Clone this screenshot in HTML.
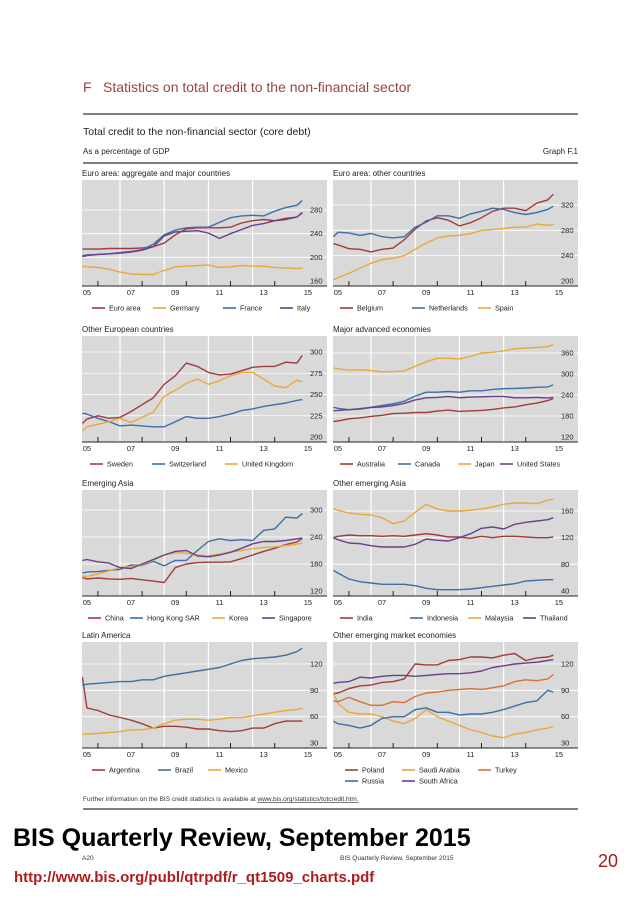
<!DOCTYPE html>
<html><head><meta charset="utf-8"><style>
html,body{margin:0;padding:0;background:#fff;}
svg{display:block;font-family:"Liberation Sans",sans-serif;}
</style></head><body>
<svg id="page" width="638" height="903" viewBox="0 0 638 903">
<text x="83" y="92" font-size="14" fill="#9b4343">F</text>
<text x="103" y="92" font-size="14" fill="#9b4343">Statistics on total credit to the non-financial sector</text>
<line x1="83" y1="114" x2="578" y2="114" stroke="#000" stroke-width="1"/>
<text x="83" y="135" font-size="10.5" fill="#222">Total credit to the non-financial sector (core debt)</text>
<text x="83" y="154" font-size="8" fill="#222">As a percentage of GDP</text>
<text x="578" y="154" font-size="8" fill="#222" text-anchor="end">Graph F.1</text>
<line x1="83" y1="163" x2="578" y2="163" stroke="#000" stroke-width="1"/>
<g id="charts"></g>
<text x="83" y="801" font-size="6.5" fill="#333">Further information on the BIS credit statistics is available at <tspan text-decoration="underline">www.bis.org/statistics/totcredit.htm.</tspan></text>
<line x1="83" y1="809" x2="578" y2="809" stroke="#000" stroke-width="1"/>
<text x="13" y="846" font-size="25" font-weight="bold" fill="#000">BIS Quarterly Review, September 2015</text>
<text x="82" y="860" font-size="6.5" fill="#333">A20</text>
<text x="340" y="860" font-size="6.5" fill="#333">BIS Quarterly Review, September 2015</text>
<text x="598" y="867" font-size="18" fill="#a01c1c">20</text>
<text x="14" y="882" font-size="15" font-weight="bold" fill="#b01c1c">http://www.bis.org/publ/qtrpdf/r_qt1509_charts.pdf</text>
</svg>
<script>
const years = [2005.3,2005.5,2006,2006.5,2007,2007.5,2008,2008.5,2009,2009.5,2010,2010.5,2011,2011.5,2012,2012.5,2013,2013.5,2014,2014.5,2015,2015.25];
const yearLabels = ["05","07","09","11","13","15"];
// Panel 1
const euroArea = [214,214,214,215,215,215,216,218,224,238,248,250,250,250,251,258,262,264,262,266,268,276];
const germany = [185,184,183,180,175,172,171,171,178,184,185,186,187,183,184,186,185,185,183,182,181,182];
const france = [203,204,205,206,208,210,213,222,238,246,250,251,251,259,267,270,271,270,278,284,288,296];
const italy = [201,203,205,206,207,209,212,218,236,243,244,245,241,232,240,247,254,257,262,264,268,275];
// Panel 2
const belgium = [259,257,251,250,246,250,252,265,282,295,300,296,287,292,300,310,315,315,311,323,328,337];
const netherlands = [270,277,276,272,275,270,268,270,285,293,303,303,299,306,310,315,313,308,305,308,313,318];
const spain = [202,205,212,220,228,234,236,240,250,260,268,271,272,275,280,281,283,285,285,290,288,289];
// Panel 3
const sweden = [216,221,225,222,223,230,238,246,262,272,287,283,276,273,274,278,282,283,283,288,287,296];
const switzerland = [228,227,222,218,213,214,213,212,212,218,224,222,222,224,227,231,233,236,238,240,243,244];
const unitedKingdom = [207,212,215,218,222,217,223,229,248,255,263,268,262,266,272,276,276,268,260,258,267,265];
// Panel 4
const australia = [164,166,172,175,179,182,187,188,190,190,194,197,193,195,196,199,203,206,212,217,224,230];
const canada = [205,202,198,201,205,210,215,222,237,248,248,250,248,252,252,256,258,259,260,262,263,269];
const japan = [317,315,311,312,310,306,307,309,322,335,345,345,343,350,360,362,366,372,374,376,378,384];
const unitedStates = [195,196,198,200,204,206,210,216,226,232,233,236,232,234,235,236,236,232,232,233,231,233];
// Panel 5
const china = [150,147,149,147,146,148,145,142,139,172,180,183,184,184,185,192,200,208,215,223,229,237];
const hongKong = [160,162,163,166,168,178,177,186,176,188,188,210,230,236,232,234,232,255,258,284,282,292];
const korea = [153,152,158,165,172,174,178,188,200,205,204,200,198,202,207,210,214,217,218,221,224,227];
const singapore = [188,190,185,182,172,170,180,190,200,208,210,198,196,200,206,215,225,230,230,232,236,238];
// Panel 6
const india = [120,122,124,123,123,122,123,122,124,126,124,121,121,119,122,120,122,122,121,120,120,121];
const indonesia = [71,67,58,54,52,50,50,50,48,44,42,42,42,43,45,47,49,51,55,56,57,57];
const malaysia = [164,161,157,155,154,150,141,145,158,170,163,160,160,161,163,166,170,172,172,171,176,178];
const thailand = [120,117,112,111,108,106,106,106,110,118,116,115,120,126,134,136,133,140,143,145,147,150];
// Panel 7
const argentina = [105,70,67,62,59,56,52,47,49,49,48,46,46,44,43,44,47,47,52,55,55,55];
const brazil = [96,97,98,99,100,100,102,102,106,108,110,112,114,116,120,124,126,127,128,130,134,138];
const mexico = [40,40,41,42,43,45,45,47,52,56,57,57,56,57,59,59,61,63,65,67,68,70];
// Panel 8
const poland = [86,87,92,95,96,99,100,103,120,119,119,124,125,128,128,127,130,132,124,127,128,130];
const saudiArabia = [87,75,65,63,63,60,55,52,58,68,60,55,50,45,42,38,36,40,42,45,47,49];
const turkey = [78,77,82,77,73,73,77,76,83,87,88,90,91,92,91,93,95,100,102,101,103,108];
const russia = [55,52,50,47,50,58,60,60,68,70,65,65,62,63,63,65,68,72,76,78,90,88];
const southAfrica = [98,99,100,105,104,106,107,107,106,107,108,109,109,110,112,116,118,120,121,122,124,125];
// Tick arrays
const ticks1 = [160,200,240,280];
const ticks2 = [200,240,280,320];
const ticks3 = [200,225,250,275,300];
const ticks4 = [120,180,240,300,360];
const ticks5 = [120,180,240,300];
const ticks6 = [40,80,120,160];
const ticks7 = [30,60,90,120];
const ticks8 = [30,60,90,120];

const RED="#a23b3b", YEL="#e9a83a", BLU="#3d6ea5", PUR="#6b3f8c", ORG="#d8703a";
const panels = [
 {name:"euro-area-aggregate",title:"Euro area: aggregate and major countries",x0:82,top:180,rTop:30,ticks:ticks1,
  series:[["Euro area",euroArea,RED,10],["Germany",germany,YEL,71],["France",france,BLU,141],["Italy",italy,PUR,198]]},
 {name:"euro-area-other",title:"Euro area: other countries",x0:333,top:180,rTop:25,ticks:ticks2,
  series:[["Belgium",belgium,RED,7],["Netherlands",netherlands,BLU,79],["Spain",spain,YEL,145]]},
 {name:"other-european",title:"Other European countries",x0:82,top:336,rTop:16,ticks:ticks3,
  series:[["Sweden",sweden,RED,8],["Switzerland",switzerland,BLU,70],["United Kingdom",unitedKingdom,YEL,143]]},
 {name:"major-advanced",title:"Major advanced economies",x0:333,top:336,rTop:17,ticks:ticks4,
  series:[["Australia",australia,RED,7],["Canada",canada,BLU,65],["Japan",japan,YEL,125],["United States",unitedStates,PUR,167]]},
 {name:"emerging-asia",title:"Emerging Asia",x0:82,top:490,rTop:20,ticks:ticks5,
  series:[["China",china,RED,6],["Hong Kong SAR",hongKong,BLU,48],["Korea",korea,YEL,130],["Singapore",singapore,PUR,180]]},
 {name:"other-emerging-asia",title:"Other emerging Asia",x0:333,top:490,rTop:21,ticks:ticks6,
  series:[["India",india,RED,7],["Indonesia",indonesia,BLU,77],["Malaysia",malaysia,YEL,135],["Thailand",thailand,PUR,190]]},
 {name:"latin-america",title:"Latin America",x0:82,top:642,rTop:22,ticks:ticks7,
  series:[["Argentina",argentina,RED,10],["Brazil",brazil,BLU,76],["Mexico",mexico,YEL,126]]},
 {name:"other-emerging-market",title:"Other emerging market economies",x0:333,top:642,rTop:22,ticks:ticks8,
  series:[["Poland",poland,RED,12,0],["Saudi Arabia",saudiArabia,YEL,69,0],["Turkey",turkey,ORG,145,0],["Russia",russia,BLU,12,11],["South Africa",southAfrica,PUR,69,11]]}
];
const NS="http://www.w3.org/2000/svg";
const root=document.getElementById("charts");
function mk(tag,attrs,parent){const e=document.createElementNS(NS,tag);for(const k in attrs)e.setAttribute(k,attrs[k]);(parent||root).appendChild(e);return e;}
const W=245,H=106;
panels.forEach((p,pi)=>{
  const g=mk("g",{});
  
  
  const xS=yr=>p.x0+(yr-2005.28)*22.1;
  const lo=p.ticks[0],hi=p.ticks[p.ticks.length-1];
  const yS=v=>p.top+101-(v-lo)/(hi-lo)*(101-p.rTop);
  const t=mk("text",{x:p.x0,y:p.top-4,"font-size":"8","fill":"#222"},g);t.textContent=p.title;
  
  
  const bg=mk("rect",{x:p.x0,y:p.top,width:W,height:H,fill:"#d9d9d9"},g);
  
  
  const cp=mk("clipPath",{id:"cp"+pi},g);mk("rect",{x:p.x0,y:p.top,width:W,height:H},cp);
  [2007,2009,2011,2013].forEach(yr=>{
    const l=mk("line",{x1:xS(yr),x2:xS(yr),y1:p.top,y2:p.top+H,stroke:"#fff","stroke-width":"1.2"},g);
    
    
  });
  p.ticks.forEach((v,i)=>{
    if(i>0){const l=mk("line",{x1:p.x0,x2:p.x0+W,y1:yS(v),y2:yS(v),stroke:"#fff","stroke-width":"0.8"},g);
      
      }
    const tt=mk("text",{x:p.x0+228,y:yS(v)+2.5,"font-size":"7.5",fill:"#222"},g);tt.textContent=v;
    
    
  });
  const ax=mk("line",{x1:p.x0,x2:p.x0+W,y1:p.top+H,y2:p.top+H,stroke:"#222","stroke-width":"1"},g);
  
  
  [2006,2008,2010,2012,2014].forEach(yr=>{
    const tk=mk("line",{x1:xS(yr),x2:xS(yr),y1:p.top+H-5,y2:p.top+H,stroke:"#222","stroke-width":"1"},g);
    
    
  });
  yearLabels.forEach((lb,i)=>{
    const tx=mk("text",{x:xS(2005.5+2*i),y:p.top+H+9,"font-size":"7.5",fill:"#222","text-anchor":"middle"},g);tx.textContent=lb;
    
    
  });
  const lg=mk("g",{"clip-path":"url(#cp"+pi+")"},g);
  p.series.forEach(s=>{
    const d=s[1].map((v,i)=>(i?"L":"M")+xS(years[i]).toFixed(1)+","+yS(v).toFixed(1)).join("");
    const path=mk("path",{d:d,fill:"none",stroke:s[2],"stroke-width":"1.4","stroke-linejoin":"round"},lg);
    
    
  });
  const ly=p.top+H+22;
  p.series.forEach(s=>{
    const yy=ly+(s[4]||0);
    const e=mk("g",{},g);
    
    
    mk("line",{x1:p.x0+s[3],x2:p.x0+s[3]+13,y1:yy,y2:yy,stroke:s[2],"stroke-width":"1.6"},e);
    const lt=mk("text",{x:p.x0+s[3]+17,y:yy+2.5,"font-size":"7.2",fill:"#222"},e);lt.textContent=s[0];
  });
});
</script>
</body></html>
